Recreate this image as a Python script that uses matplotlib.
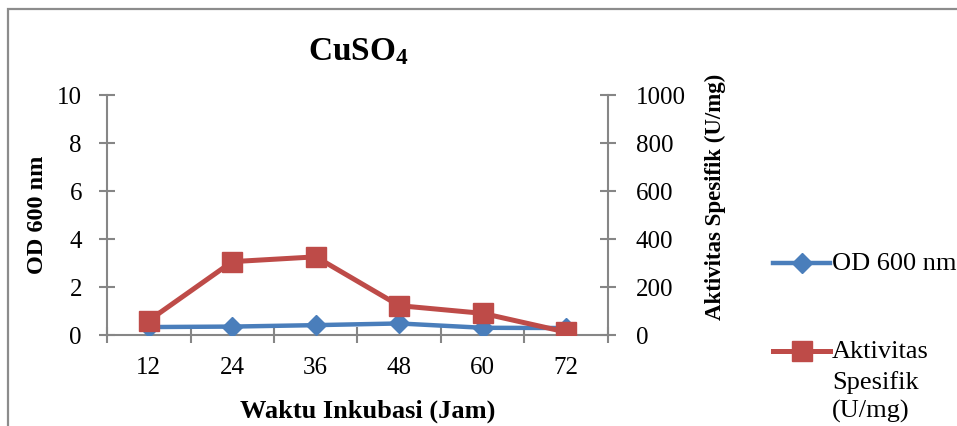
import matplotlib.pyplot as plt
from matplotlib.lines import Line2D
from matplotlib.patches import Rectangle

# Data
waktu = ['12', '24', '36', '48', '60', '72']
od600 = [0.33, 0.35, 0.41, 0.48, 0.30, 0.29]
aktivitas = [60, 305, 325, 122, 90, 12]

plt.rcParams['font.family'] = ['Liberation Serif', 'DejaVu Serif']
plt.rcParams['mathtext.fontset'] = 'custom'
plt.rcParams['mathtext.rm'] = 'Liberation Serif'
plt.rcParams['mathtext.bf'] = 'Liberation Serif:bold'

W, H = 957, 427
fig = plt.figure(figsize=(W / 100, H / 100), dpi=100)

# outer chart frame
fig.patches.append(Rectangle((8 / W, -0.5), 1.2, 1.5 - 10 / H, transform=fig.transFigure,
                             fill=False, edgecolor='#8c8c8c', lw=1.6))

ax = fig.add_axes([107 / W, 1 - 336 / H, 501 / W, 240.5 / H])
ax2 = ax.twinx()

grey = '#868686'
blue = '#4A7EBB'
red = '#BE4B48'

x = list(range(len(waktu)))
ax.plot(x, od600, color=blue, lw=3.2, marker='D', markersize=10, zorder=3)
ax2.plot(x, aktivitas, color=red, lw=3.6, marker='s', markersize=14, zorder=3)

ax.set_xlim(-0.5, len(waktu) - 0.5)
ax.set_ylim(0, 10)
ax.set_yticks(range(0, 11, 2))
ax2.set_ylim(0, 1000)
ax2.set_yticks(range(0, 1001, 200))

ax.set_xticks(x)
ax.set_xticklabels(waktu)
ax.set_xticks([i - 0.5 for i in range(len(waktu) + 1)], minor=True)
ax.tick_params(axis='x', which='major', length=0, pad=15, labelsize=18)
ax.tick_params(axis='x', which='minor', direction='inout', length=11, width=1.5, color=grey)
ax.tick_params(axis='y', direction='inout', length=12, width=1.5, color=grey, pad=12, labelsize=18)
ax2.tick_params(axis='y', direction='inout', length=12, width=1.5, color=grey, pad=14, labelsize=18)

for a in (ax, ax2):
    a.spines['top'].set_visible(False)
    for s in ('left', 'right', 'bottom'):
        a.spines[s].set_color(grey)
        a.spines[s].set_linewidth(1.5)
ax.spines['right'].set_visible(False)
ax2.spines['left'].set_visible(False)
ax2.spines['bottom'].set_visible(False)

ax.set_xlabel('Waktu Inkubasi (Jam)', fontsize=19, fontweight='bold', va='center')
ax.xaxis.set_label_coords(0.52, -0.315)
ax.set_ylabel('OD 600 nm', fontsize=17.5, fontweight='bold', va='center')
ax.yaxis.set_label_coords(-0.138, 0.505)
ax2.set_ylabel('Aktivitas Spesifik (U/mg)', fontsize=16.5, fontweight='bold', va='center')
ax2.yaxis.set_label_coords(1.215, 0.58)

fig.text(358 / W, 1 - 52 / H, r'$\mathbf{CuSO_4}$', fontsize=24, ha='center', va='center')

# legend keys, drawn in figure coordinates
def legend_key(y, color, lw, marker, ms):
    yf = 1 - y / H
    fig.lines.append(Line2D([773 / W, 830 / W], [yf, yf], transform=fig.transFigure,
                            color=color, lw=lw))
    fig.lines.append(Line2D([801.5 / W], [yf], transform=fig.transFigure,
                            color=color, marker=marker, markersize=ms, lw=0))

legend_key(264, blue, 3.2, 'D', 10)
legend_key(352, red, 3.6, 's', 14)
fig.text(832 / W, 1 - 264 / H, 'OD 600 nm', fontsize=19, va='center', ha='left')
fig.text(832 / W, 1 - 352 / H, 'Aktivitas', fontsize=19, va='center', ha='left')
fig.text(832 / W, 1 - 383 / H, 'Spesifik', fontsize=19, va='center', ha='left')
fig.text(832 / W, 1 - 411 / H, '(U/mg)', fontsize=19, va='center', ha='left')

fig.savefig('out.png', dpi=100)
